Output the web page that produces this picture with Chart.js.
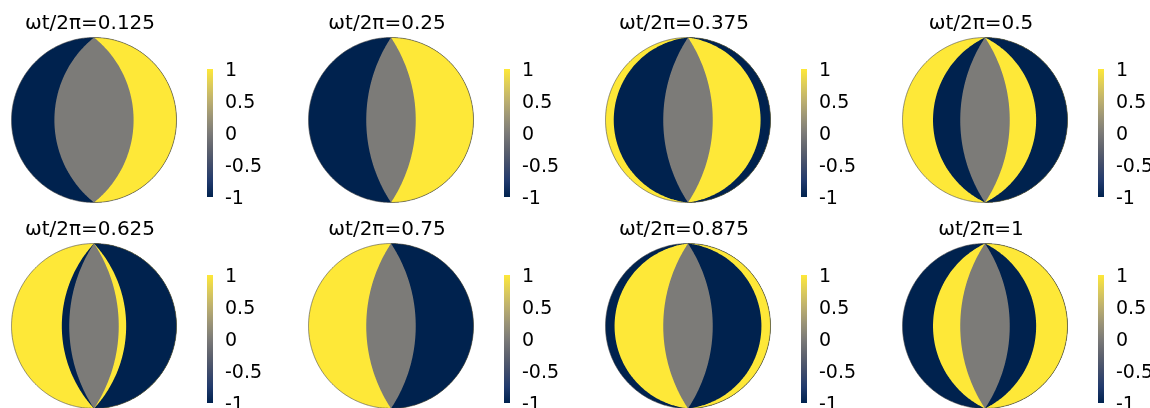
<!DOCTYPE html>
<html lang="en">
<head>
<meta charset="UTF-8">
<title>Phase snapshots</title>
<script src="https://cdn.jsdelivr.net/npm/chart.js"></script>
<style>
    body { margin: 0; background: #fff; }
    #wrap { position: relative; width: 1150px; height: 408px; overflow: hidden; }
    .box { position: absolute; }
</style>
</head>
<body>
<div id="wrap"></div>
<script>
// one panel per phase, left to right, top to bottom
const phases = ['0.125', '0.25', '0.375', '0.5', '0.625', '0.75', '0.875', '1'];

// where the field changes value along the equator (fraction of the radius, left to right)
const bounds = [
    [-0.48, 0.48],
    [-0.30, 0.30],
    [-0.90, -0.30, 0.30, 0.88],
    [-0.63, -0.30, 0.30, 0.62],
    [-0.39, -0.30, 0.30, 0.39],
    [-0.30, 0.30],
    [-0.89, -0.30, 0.30, 0.89],
    [-0.63, -0.30, 0.30, 0.62]
];

// field value in each band, left to right
const fieldValues = [
    [-1, 0, 1],
    [-1, 0, 1],
    [1, -1, 0, 1, -1],
    [1, -1, 0, 1, -1],
    [1, -1, 0, 1, -1],
    [1, 0, -1],
    [-1, 1, 0, -1, 1],
    [-1, 1, 0, -1, 1]
];

const colorbarTicks = [1, 0.5, 0, -0.5, -1];

// cividis, from -1 to 1
const cividis = ['#00224e', '#213a6d', '#414d6b', '#5f636e', '#7c7b78',
                 '#9b9477', '#bcaf6f', '#dccb5a', '#fee838'];
const valueColor = { '-1': cividis[0], '0': cividis[4], '1': cividis[8] };

Chart.defaults.font.family = 'DejaVu Sans';
Chart.defaults.color = '#000';
Chart.defaults.animation = false;

const R = 82.5;          // disc radius in px
const TITLE_H = 36;      // title block height (padding + line)
const wrap = document.getElementById('wrap');

function box(left, top, w, h) {
    const d = document.createElement('div');
    d.className = 'box';
    d.style.left = left + 'px';
    d.style.top = top + 'px';
    d.style.width = w + 'px';
    d.style.height = h + 'px';
    const c = document.createElement('canvas');
    c.width = w;
    c.height = h;
    d.appendChild(c);
    wrap.appendChild(d);
    return c;
}

// boundary curve: circular arc through both poles crossing the equator at c
function arc(c) {
    const pts = [];
    for (let i = 0; i <= 90; i++) {
        const y = Math.cos(Math.PI * i / 90);
        let x = 0;
        if (c !== 0) {
            const a = Math.abs(c);
            const h = (a * a - 1) / (2 * a);
            const r = Math.sqrt(h * h + 1);
            x = Math.sign(c) * (h + Math.sqrt(Math.max(r * r - y * y, 0)));
        }
        pts.push({ x: x, y: y });
    }
    return pts;
}

// soften the band edges a little, keep the rim line sharp
const softEdges = {
    id: 'softEdges',
    beforeDatasetsDraw(chart) { chart.ctx.save(); chart.ctx.filter = 'blur(0.7px)'; },
    beforeDatasetDraw(chart, args) {
        if (args.index === chart.data.datasets.length - 1) chart.ctx.filter = 'none';
    },
    afterDatasetsDraw(chart) { chart.ctx.restore(); }
};

phases.forEach((ph, i) => {
    const col = i % 4, row = Math.floor(i / 4);
    const cx = 93.5 + 297 * col;
    const top = 206 * row;
    const h = row === 0 ? 206 : 202;

    // bands: each one covers from its left boundary to the right rim, painted left to right
    const lefts = [-1].concat(bounds[i]);
    const datasets = lefts.map((b, k) => ({
        data: arc(b).concat(arc(1).reverse()),
        showLine: true,
        fill: 'shape',
        tension: 0.001,
        backgroundColor: valueColor[fieldValues[i][k]],
        borderColor: 'transparent',
        borderWidth: 0,
        pointRadius: 0,
        order: -k
    }));
    datasets.push({
        data: arc(-1).concat(arc(1).reverse()),
        showLine: true,
        fill: false,
        tension: 0.001,
        borderColor: 'rgba(70,70,70,0.85)',
        borderWidth: 0.7,
        pointRadius: 0,
        order: -20
    });

    new Chart(box(cx - 104, top, 200, h), {
        type: 'scatter',
        data: { datasets: datasets },
        plugins: [softEdges],
        options: {
            responsive: false,
            layout: { padding: 0 },
            plugins: {
                legend: { display: false },
                tooltip: { enabled: false },
                title: {
                    display: true,
                    text: 'ωt/2π=' + ph,
                    font: { size: 20, weight: 'normal', lineHeight: '24px' },
                    padding: { top: TITLE_H - 24, bottom: 0 },
                    color: '#000'
                }
            },
            scales: {
                x: { type: 'linear', display: false, min: -104 / R, max: 96 / R },
                y: { type: 'linear', display: false, min: -(h - 120) / R, max: (120 - TITLE_H) / R }
            }
        }
    });

    // colorbar (canvas runs past the panel so the bottom label has room)
    const cbH = 230;
    new Chart(box(cx + 113.5, top, 56, cbH), {
        type: 'bar',
        data: {
            labels: ['cb'],
            datasets: [{
                data: [[-1, 1]],
                barPercentage: 1,
                categoryPercentage: 1,
                borderWidth: 0,
                backgroundColor(ctx) {
                    const chart = ctx.chart, y = chart.scales.y;
                    if (!chart.chartArea || !y) return cividis[4];
                    const g = chart.ctx.createLinearGradient(0, y.getPixelForValue(-1), 0, y.getPixelForValue(1));
                    cividis.forEach((c, k) => g.addColorStop(k / (cividis.length - 1), c));
                    return g;
                }
            }]
        },
        options: {
            responsive: false,
            layout: { padding: { top: 69, bottom: cbH - 197, left: 0, right: 0 } },
            plugins: { legend: { display: false }, tooltip: { enabled: false } },
            scales: {
                x: { display: false },
                y: {
                    position: 'right',
                    min: -1,
                    max: 1,
                    grid: { display: false },
                    border: { display: false },
                    afterBuildTicks(s) { s.ticks = colorbarTicks.map(v => ({ value: v })); },
                    afterFit(s) { s.width = 50; },
                    ticks: {
                        padding: 4,
                        labelOffset: 2,
                        font: { size: 19 },
                        color: '#000',
                        callback: v => String(v)
                    }
                }
            }
        }
    });
});
</script>
</body>
</html>
